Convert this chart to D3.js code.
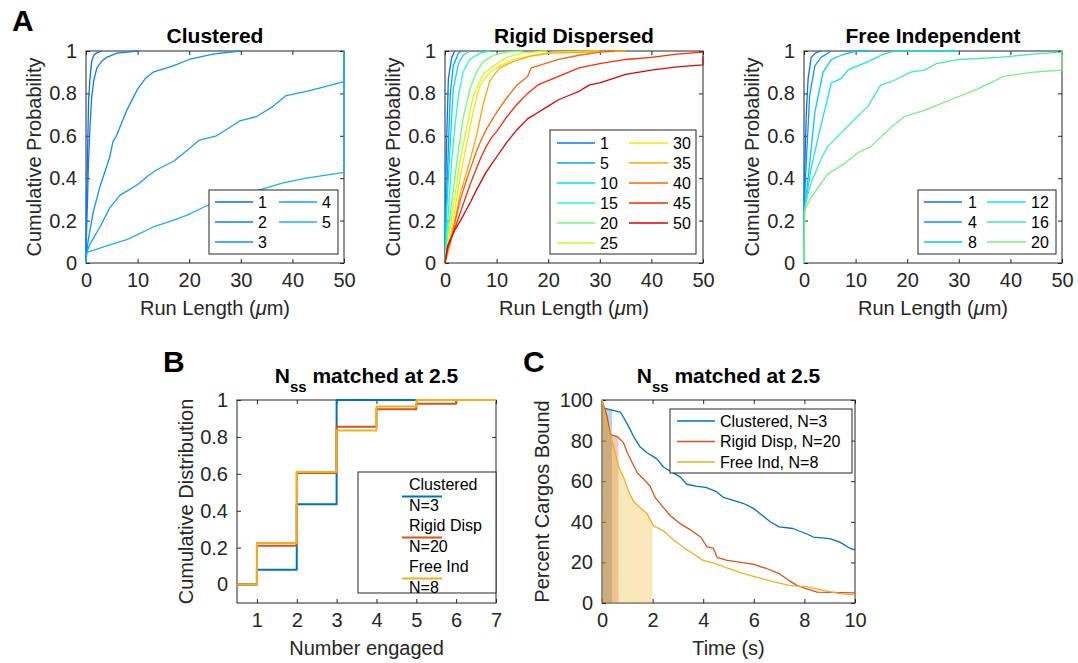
<!DOCTYPE html>
<html>
<head>
<meta charset="utf-8">
<script src="https://cdn.jsdelivr.net/npm/d3@7"></script>
<style>
  body { margin: 0; background: #fff; }
  svg { font-family: "Liberation Sans", Arial, Helvetica, sans-serif; }
</style>
</head>
<body>
<svg id="fig" width="1078" height="663"></svg>
<script>
// ---- Panel A: run length CDFs, [run length (um), cumulative probability] ----
const clusteredLabels = ['1', '2', '3', '4', '5'];
const clusteredN1 = [[0,0],[0.1,0.3],[0.26,0.45],[0.5,0.77],[0.8,0.88],[1.1,0.95],[1.5,0.98],[2,0.99],[3,1]];
const clusteredN2 = [[0,0],[0.1,0.14],[0.3,0.3],[0.45,0.45],[0.77,0.64],[1.1,0.78],[1.5,0.86],[2.1,0.92],[3,0.95],[4,0.97],[6,0.99],[10,1]];
const clusteredN3 = [[0,0],[0.2,0.06],[0.45,0.11],[1.4,0.24],[2.7,0.36],[4.6,0.5],[5.2,0.57],[5.9,0.6],[7.9,0.72],[10,0.82],[11.5,0.87],[13,0.9],[16.9,0.93],[20,0.96],[24.6,0.985],[29.8,1]];
const clusteredN4 = [[0,0],[0.1,0.05],[0.8,0.09],[2.7,0.17],[4.6,0.26],[6.6,0.32],[8,0.34],[10,0.37],[12,0.41],[13.7,0.44],[17,0.48],[19.5,0.53],[22,0.58],[25.3,0.6],[29.8,0.67],[33,0.69],[36.3,0.74],[38.8,0.79],[42.7,0.81],[46,0.83],[50,0.855],[50,1]];
const clusteredN5 = [[0,0],[0.1,0.05],[1.4,0.06],[4.6,0.086],[7.9,0.11],[10.5,0.14],[13,0.17],[15.6,0.19],[19.5,0.225],[23.4,0.27],[28.5,0.31],[33.7,0.345],[38,0.377],[42.7,0.4],[50,0.427],[50,1]];

const rigidLabels = ['1', '5', '10', '15', '20', '25', '30', '35', '40', '45', '50'];
const rigidN1 = [[0,0],[0.1,0.3],[0.3,0.56],[0.65,0.87],[1.3,0.97],[1.9,1]];
const rigidN5 = [[0,0],[0.15,0.2],[0.45,0.4],[1,0.79],[1.6,0.93],[2.6,0.99],[3.2,1]];
const rigidN10 = [[0,0],[0.3,0.24],[1,0.56],[1.6,0.82],[2.6,0.94],[3.5,0.98],[4.8,1]];
const rigidN15 = [[0,0],[0.65,0.24],[1.3,0.48],[1.9,0.64],[2.6,0.79],[3.5,0.9],[4.8,0.96],[6.8,0.99],[8.7,1]];
const rigidN20 = [[0,0],[0.65,0.16],[2.3,0.48],[3.5,0.68],[4.8,0.82],[6.1,0.9],[7.4,0.95],[9.4,0.98],[11.9,0.995],[15,1]];
const rigidN25 = [[0,0],[1,0.16],[2.9,0.48],[4.2,0.64],[5.5,0.79],[7.4,0.89],[9.4,0.93],[11.9,0.97],[15,0.99],[19.7,1]];
const rigidN30 = [[0,0],[1,0.12],[2.9,0.4],[4.2,0.56],[5.5,0.72],[6.8,0.84],[8.7,0.9],[10.6,0.93],[13.2,0.96],[17.1,0.98],[21,0.995],[30,1]];
const rigidN35 = [[0,0],[1,0.085],[2.9,0.32],[4.8,0.48],[6.1,0.6],[7.4,0.75],[8.7,0.86],[10.6,0.92],[13.2,0.95],[16.4,0.975],[20.3,0.99],[35,1]];
const rigidN40 = [[0,0],[0.5,0.06],[1,0.1],[2,0.2],[3,0.3],[4,0.38],[5,0.45],[6,0.52],[7,0.58],[8,0.63],[9,0.67],[10,0.71],[12,0.78],[14,0.84],[16,0.88],[16.7,0.92],[18,0.93],[20,0.945],[22,0.96],[26,0.98],[30,0.995],[33,1]];
const rigidN45 = [[0,0],[0.5,0.07],[1,0.1],[2,0.17],[3,0.24],[4,0.31],[5,0.38],[6,0.44],[7,0.5],[8,0.55],[9,0.59],[10,0.62],[12,0.69],[14,0.75],[16,0.8],[18,0.84],[20,0.86],[22,0.88],[24,0.9],[26,0.92],[30,0.94],[35,0.96],[40,0.97],[45,0.985],[50,0.995]];
const rigidN50 = [[0,0],[0.5,0.08],[1,0.11],[2,0.16],[3,0.2],[5,0.29],[6,0.34],[8,0.43],[10,0.5],[12,0.57],[14,0.63],[16,0.68],[18,0.71],[20,0.74],[22,0.77],[24,0.79],[26,0.81],[28,0.84],[30,0.85],[35,0.89],[40,0.91],[45,0.925],[50,0.935],[50,0.975]];

const freeLabels = ['1', '4', '8', '12', '16', '20'];
const freeN1 = [[0,0],[0.1,0.4],[0.45,0.71],[0.8,0.87],[1.4,0.97],[2.2,0.99],[3.3,1]];
const freeN4 = [[0,0],[0.1,0.3],[0.45,0.48],[1.1,0.79],[2.1,0.93],[3.3,0.97],[5.3,1]];
const freeN8 = [[0,0],[0.1,0.25],[0.8,0.4],[2.1,0.71],[3.7,0.9],[5.3,0.96],[7.2,0.98],[10.1,1],[13,1]];
const freeN12 = [[0,0],[0.1,0.25],[1.4,0.45],[3.3,0.65],[5.3,0.85],[7.2,0.87],[8.5,0.91],[10.4,0.93],[12.4,0.95],[14.9,0.98],[17.5,1],[30,1]];
const freeN16 = [[0,0],[0.1,0.25],[0.5,0.3],[1.4,0.38],[3.5,0.5],[4.6,0.55],[9.1,0.66],[12.4,0.74],[14.9,0.84],[16.9,0.855],[20.7,0.9],[23.3,0.91],[25.6,0.94],[30.1,0.96],[37.8,0.97],[44.3,0.985],[50,0.995],[50,1]];
const freeN20 = [[0,0],[0.1,0.25],[1.4,0.31],[4.6,0.42],[7.9,0.47],[10.4,0.52],[13,0.55],[16.9,0.64],[19.4,0.69],[23.3,0.72],[28.4,0.77],[33.6,0.82],[38.7,0.88],[44.5,0.9],[50,0.91],[50,1]];

// ---- Panel B: number of motors engaged, step CDF ----
const numberEngaged = [0.5, 1, 2, 3, 4, 5, 6, 7];
const engagedClustered = [0, 0.08, 0.435, 1, 1, 1, 1, 1];
const engagedRigid = [0, 0.21, 0.605, 0.855, 0.95, 0.98, 1, 1];
const engagedFree = [0, 0.225, 0.61, 0.835, 0.965, 1, 1, 1];
const engagedLabels = [['Clustered', 'N=3'], ['Rigid Disp', 'N=20'], ['Free Ind', 'N=8']];

// ---- Panel C: percent of cargos still bound, [time (s), percent] ----
const boundClustered = [[0,100],[0.07,96],[0.4,95],[0.72,94],[0.85,91.5],[1.05,87],[1.25,82],[1.5,77],[1.78,74],[2.17,71],[2.43,67],[2.83,64],[3.1,62],[3.35,58.5],[3.75,57.5],[4.1,57],[4.5,55],[4.8,52],[5.2,50.5],[5.6,49],[6,46.5],[6.25,44],[6.65,40],[7,37.5],[7.55,36.7],[8.1,34],[8.35,32.5],[9,31.7],[9.4,30],[9.8,27],[10,26]];
const boundRigid = [[0,100],[0.2,92],[0.33,83],[0.6,82],[0.85,79],[1,74],[1.2,69],[1.4,64],[1.65,61],[1.9,57.5],[2.1,52],[2.43,47],[2.7,43],[3.1,39],[3.5,36],[3.9,32.5],[4.15,27.6],[4.4,27],[4.55,22.5],[4.95,21],[5.5,20],[6,19],[6.5,17],[7,14.5],[7.4,11],[7.7,8.7],[8.1,7],[8.5,5.4],[10,5]];
const boundFree = [[0,100],[0.13,92],[0.26,85],[0.46,77],[0.66,67],[0.85,62],[1.05,55],[1.25,50],[1.5,47],[1.78,44],[2.04,38],[2.43,35.5],[2.83,31],[3.2,27.6],[3.6,24.3],[4,21],[4.5,19.4],[5,17],[5.6,14.5],[6.1,12.8],[6.8,10.4],[7.4,8.7],[8.1,7.9],[8.75,6.2],[9.4,4.6],[10,4]];
const boundLabels = ['Clustered, N=3', 'Rigid Disp, N=20', 'Free Ind, N=8'];
const shadeUntil = [0.4, 0.65, 2.0];   // shaded time window per series

// ---- styles ----
const ink = '#262626';
const clusteredColors = ['#0a6ee8', '#0b80ec', '#0d92ee', '#12a2f0', '#1ab0f2'];
const rigidColors = ['#0a70ff', '#00a6ff', '#00dcff', '#1effd2', '#6cff70', '#c4ff2a', '#ffe600', '#ffa800', '#ff6400', '#ff2a00', '#e00000'];
const freeColors = ['#0a70f0', '#0a96f8', '#00c6ff', '#10e6e6', '#3cf0a8', '#78f078'];
const matlabColors = ['#0072BD', '#D95319', '#EDB120'];

const svg = d3.select('#fig');
let clipCount = 0;

// Matlab-like axes: box, inward ticks on all sides
function makeAxes(o) {
  const g = svg.append('g').attr('transform', `translate(${o.left},${o.top})`);
  const x = d3.scaleLinear().domain(o.xDomain).range([0, o.width]);
  const y = d3.scaleLinear().domain(o.yDomain).range([o.height, 0]);

  const fmt = d => String(+d.toFixed(1));
  const parts = [
    [d3.axisBottom(x).tickValues(o.xTicks).tickFormat(fmt).tickPadding(10), `translate(0,${o.height})`],
    [d3.axisTop(x).tickValues(o.xTicks).tickFormat(''), 'translate(0,0)'],
    [d3.axisLeft(y).tickValues(o.yTicks).tickFormat(fmt).tickPadding(9), 'translate(0,0)'],
    [d3.axisRight(y).tickValues(o.yTicks).tickFormat(''), `translate(${o.width},0)`]
  ];
  parts.forEach(([axis, tr]) => {
    const a = g.append('g').attr('transform', tr)
      .call(axis.tickSizeInner(-4).tickSizeOuter(0));
    a.select('.domain').remove();
    a.selectAll('line').attr('stroke', ink);
    a.selectAll('text').attr('fill', ink).style('font-size', '20px')
      .style('font-family', '"Liberation Sans", Arial, sans-serif');
  });

  g.append('rect').attr('width', o.width).attr('height', o.height)
    .attr('fill', 'none').attr('stroke', ink).attr('stroke-width', 1);

  // x label
  const xl = g.append('text').attr('x', o.width / 2).attr('y', o.height + 52)
    .attr('text-anchor', 'middle').attr('fill', ink).style('font-size', '20px');
  if (o.xLabelMu) {
    xl.append('tspan').text('Run Length (');
    xl.append('tspan').style('font-style', 'italic').text('\u03bc');
    xl.append('tspan').text('m)');
  } else {
    xl.text(o.xLabel);
  }

  // y label
  g.append('text')
    .attr('transform', `translate(${-o.yLabelOffset},${o.height / 2}) rotate(-90)`)
    .attr('text-anchor', 'middle').attr('fill', ink).style('font-size', '20px')
    .text(o.yLabel);

  // title
  const t = g.append('text').attr('x', o.width / 2).attr('y', o.titleY)
    .attr('text-anchor', 'middle').attr('fill', '#000')
    .style('font-size', '21px').style('font-weight', 'bold');
  if (o.nssTitle) {
    t.append('tspan').text('N');
    t.append('tspan').attr('dy', 9).style('font-size', '15px').text('ss');
    t.append('tspan').attr('dy', -9).text(' matched at 2.5');
  } else {
    t.text(o.title);
  }

  const id = 'clip' + (clipCount++);
  g.append('clipPath').attr('id', id).append('rect')
    .attr('x', -1).attr('y', -1).attr('width', o.width + 2).attr('height', o.height + 2);
  const plot = g.append('g').attr('clip-path', `url(#${id})`);
  return { g, x, y, plot, o };
}

function drawLines(ax, seriesList, colors, width, curve) {
  const line = d3.line().x(d => ax.x(d[0])).y(d => ax.y(d[1])).curve(curve || d3.curveLinear);
  seriesList.forEach((s, i) => {
    ax.plot.append('path').datum(s)
      .attr('fill', 'none').attr('stroke', colors[i]).attr('stroke-width', width)
      .attr('stroke-linejoin', 'round').attr('d', line);
  });
}

// legend: box in page coords, entries with line + text
function drawLegend(box, entries) {
  const g = svg.append('g');
  g.append('rect').attr('x', box.x).attr('y', box.y).attr('width', box.w).attr('height', box.h)
    .attr('fill', '#fff').attr('stroke', ink).attr('stroke-width', 1);
  entries.forEach(e => {
    g.append('line').attr('x1', e.x1).attr('x2', e.x2).attr('y1', e.y).attr('y2', e.y)
      .attr('stroke', e.color).attr('stroke-width', e.width || 1.3);
    const lines = Array.isArray(e.label) ? e.label : [e.label];
    lines.forEach((txt, k) => {
      g.append('text').attr('x', e.tx).attr('y', e.ty[k] + 5.8)
        .attr('fill', '#000').style('font-size', '16px').text(txt);
    });
  });
}

// panel letters
[['A', 12, 31], ['B', 163, 372], ['C', 523, 372]].forEach(([s, x, y]) => {
  svg.append('text').attr('x', x).attr('y', y).style('font-size', '30px')
    .style('font-weight', 'bold').attr('fill', '#000').text(s);
});

// ---------- Panel A ----------
const aCommon = {
  top: 51, width: 258, height: 212,
  xDomain: [0, 50], yDomain: [0, 1],
  xTicks: [0, 10, 20, 30, 40, 50], yTicks: [0, 0.2, 0.4, 0.6, 0.8, 1],
  xLabelMu: true, yLabel: 'Cumulative Probability', yLabelOffset: 45, titleY: -8
};

const axClustered = makeAxes({ ...aCommon, left: 86, title: 'Clustered' });
drawLines(axClustered, [clusteredN1, clusteredN2, clusteredN3, clusteredN4, clusteredN5], clusteredColors, 1.3);

const axRigid = makeAxes({ ...aCommon, left: 445, title: 'Rigid Dispersed' });
drawLines(axRigid, [rigidN1, rigidN5, rigidN10, rigidN15, rigidN20, rigidN25, rigidN30, rigidN35, rigidN40, rigidN45, rigidN50], rigidColors, 1.3);

const axFree = makeAxes({ ...aCommon, left: 804, title: 'Free Independent' });
drawLines(axFree, [freeN1, freeN4, freeN8, freeN12, freeN16, freeN20], freeColors, 1.3);

// two-column legends for panel A
function columnLegend(box, labels, colors, cols, rowTop, rowStep, perCol) {
  const entries = labels.map((lab, i) => {
    const c = Math.floor(i / perCol), r = i % perCol;
    const col = cols[c];
    return { x1: col[0], x2: col[1], tx: col[2], y: rowTop + r * rowStep, ty: [rowTop + r * rowStep], color: colors[i], label: lab };
  });
  drawLegend(box, entries);
}
columnLegend({ x: 209, y: 190, w: 129, h: 64 }, clusteredLabels, clusteredColors,
  [[215, 253, 258], [279, 317, 322]], 202, 20, 3);
columnLegend({ x: 550, y: 130, w: 146, h: 124 }, rigidLabels, rigidColors,
  [[557, 595, 600], [629, 668, 673]], 143, 20, 6);
columnLegend({ x: 918, y: 190, w: 138, h: 64 }, freeLabels, freeColors,
  [[924, 962, 968], [987, 1026, 1031]], 202, 20, 3);

// ---------- Panel B ----------
const axB = makeAxes({
  left: 237, top: 400, width: 259, height: 203,
  xDomain: [0.5, 7], yDomain: [-0.1, 1],
  xTicks: [1, 2, 3, 4, 5, 6, 7], yTicks: [0, 0.2, 0.4, 0.6, 0.8, 1],
  xLabel: 'Number engaged', yLabel: 'Cumulative Distribution', yLabelOffset: 44,
  titleY: -17, nssTitle: true
});
const toSteps = vals => numberEngaged.map((n, i) => [n, vals[i]]);
drawLines(axB, [toSteps(engagedClustered), toSteps(engagedRigid), toSteps(engagedFree)],
  matlabColors, 2, d3.curveStepAfter);

// two-line entries, the sample line sits in the gap between the two text lines
drawLegend({ x: 358, y: 472, w: 138, h: 121 }, engagedLabels.map((lab, i) => {
  const ly = 496.5 + i * 41;
  return { x1: 402, x2: 442, tx: 409, y: ly, ty: [ly - 12.5, ly + 8.5], color: matlabColors[i], label: lab, width: 2 };
}));

// ---------- Panel C ----------
const axC = makeAxes({
  left: 602, top: 400, width: 253, height: 203,
  xDomain: [0, 10], yDomain: [0, 100],
  xTicks: [0, 2, 4, 6, 8, 10], yTicks: [0, 20, 40, 60, 80, 100],
  xLabel: 'Time (s)', yLabel: 'Percent Cargos Bound', yLabelOffset: 53,
  titleY: -17, nssTitle: true
});
const boundSeries = [boundClustered, boundRigid, boundFree];
const area = d3.area().x(d => axC.x(d[0])).y0(axC.y(0)).y1(d => axC.y(d[1]));
boundSeries.forEach((s, i) => {
  const id = 'shade' + i;
  axC.g.append('clipPath').attr('id', id).append('rect')
    .attr('x', axC.x(0)).attr('y', 0)
    .attr('width', axC.x(shadeUntil[i]) - axC.x(0)).attr('height', axC.o.height);
  axC.plot.append('path').datum(s)
    .attr('clip-path', `url(#${id})`)
    .attr('fill', matlabColors[i]).attr('fill-opacity', 0.3).attr('d', area);
});
drawLines(axC, boundSeries, matlabColors, 1.3);

drawLegend({ x: 670, y: 409, w: 182, h: 64 }, boundLabels.map((lab, i) => {
  const ly = 421 + i * 20.5;
  return { x1: 677, x2: 715, tx: 720, y: ly, ty: [ly], color: matlabColors[i], label: lab };
}));
</script>
</body>
</html>
